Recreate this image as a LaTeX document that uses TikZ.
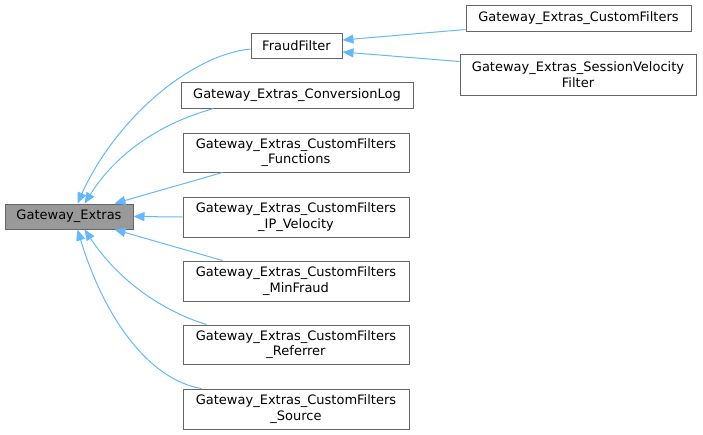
\documentclass[tikz,border=0pt]{standalone}
\usepackage{fontspec}
\setmainfont{DejaVu Sans}
\usetikzlibrary{arrows.meta,calc}
\definecolor{edgeblue}{HTML}{63B8FF}
\definecolor{boxline}{HTML}{666666}
\definecolor{basefill}{HTML}{999999}
\begin{document}
\begin{tikzpicture}[x=1pt,y=-1pt,
  cls/.style={draw=boxline,line width=1pt,fill=white,inner sep=0pt,align=center,
    font=\fontsize{13}{15.5}\selectfont,text=black},
  edge/.style={draw=edgeblue,line width=1pt,-{Triangle[length=11pt,width=9pt,fill=edgeblue]}}]
\useasboundingbox (0,0) rectangle (703,434);
\node[cls,fill=basefill,minimum width=128pt,minimum height=25pt] (base) at (69,216.5) {Gateway\_Extras};
\node[cls,minimum width=91pt,minimum height=25pt] (ff) at (296.5,45.5) {FraudFilter};
\node[cls,minimum width=232pt,minimum height=26pt] (cl) at (297,95) {Gateway\_Extras\_ConversionLog};
\node[cls,minimum width=225pt,minimum height=26pt] (cf) at (578.5,18) {Gateway\_Extras\_CustomFilters};
\node[cls,minimum width=236pt,minimum height=41pt] (sv) at (578,74.5) {Gateway\_Extras\_SessionVelocity\\Filter};
\node[cls,minimum width=226pt,minimum height=39pt] (fn) at (296,152.5) {Gateway\_Extras\_CustomFilters\\\_Functions};
\node[cls,minimum width=226pt,minimum height=40pt] (ip) at (296,217) {Gateway\_Extras\_CustomFilters\\\_IP\_Velocity};
\node[cls,minimum width=226pt,minimum height=40pt] (mf) at (296,281) {Gateway\_Extras\_CustomFilters\\\_MinFraud};
\node[cls,minimum width=226pt,minimum height=39pt] (rf) at (296,344.5) {Gateway\_Extras\_CustomFilters\\\_Referrer};
\node[cls,minimum width=226pt,minimum height=40pt] (src) at (296,409) {Gateway\_Extras\_CustomFilters\\\_Source};
% edges to FraudFilter
\draw[edge] ($(cf.south west)+(0,-2)$) -- ($(ff.east)+(0,-5.5)$);
\draw[edge] ($(sv.north west)+(0,8)$) -- ($(ff.east)+(0,6.5)$);
% edges to Gateway_Extras
\draw[edge] ($(ff.west)+(0,3.5)$) .. controls (190,55) and (115,120) .. ($(base.north west)+(73,0)$);
\draw[edge] ($(cl.south west)+(33,0)$) .. controls (180,118) and (125,140) .. ($(base.north west)+(80,0)$);
\draw[edge] ($(fn.south west)+(40,0)$) -- ($(base.north west)+(110,0)$);
\draw[edge] (ip.west) -- (base.east);
\draw[edge] ($(mf.north west)+(40,0)$) -- ($(base.south west)+(110,0)$);
\draw[edge] ($(rf.north west)+(24,0)$) .. controls (175,315) and (125,290) .. ($(base.south west)+(80,0)$);
\draw[edge] ($(src.north west)+(19,0)$) .. controls (150,380) and (105,320) .. ($(base.south west)+(73,0)$);
\end{tikzpicture}
\end{document}
